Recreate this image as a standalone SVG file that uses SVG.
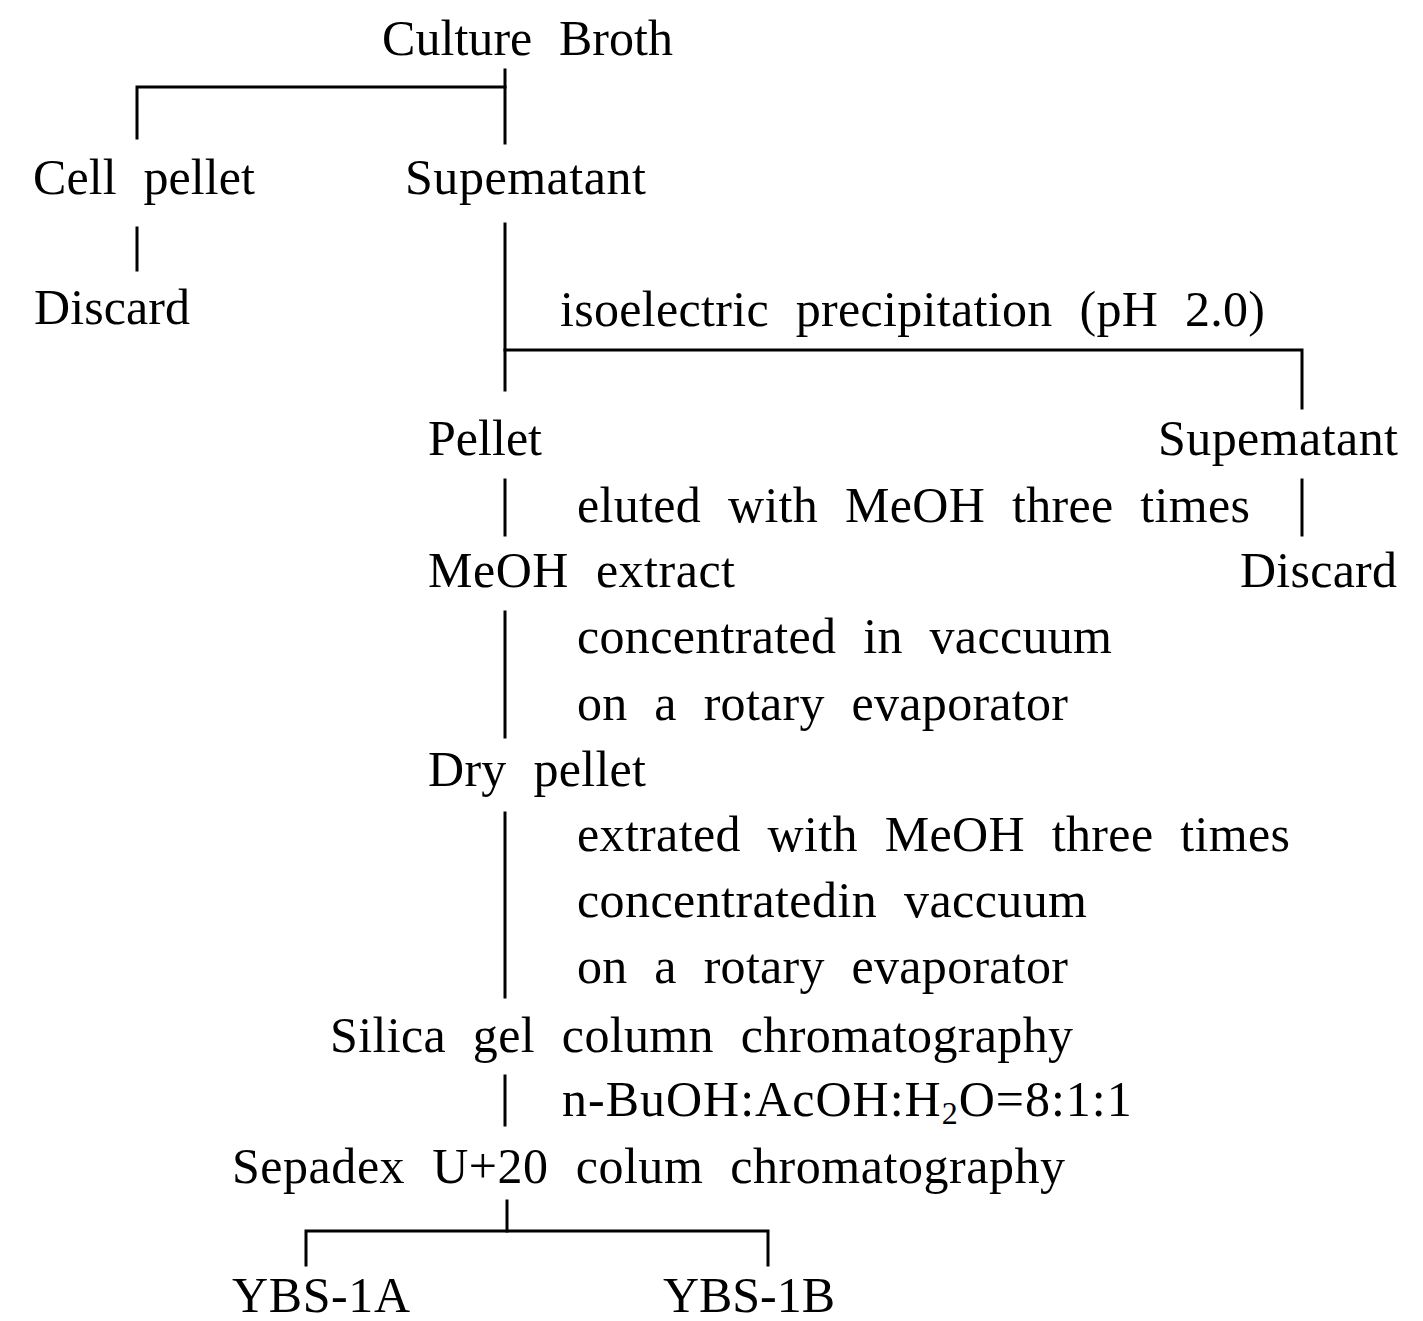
<svg xmlns="http://www.w3.org/2000/svg" width="1423" height="1321" viewBox="0 0 1423 1321">
<style>
text{font-family:"Liberation Serif","Times New Roman",serif;font-size:50px;fill:#000;word-spacing:14px}
.c{stroke:#000;stroke-width:3;fill:none;stroke-linecap:square}
</style>
<rect width="1423" height="1321" fill="#fff"/>
<g id="connectors" class="c">
<path d="M137,138 V87 H505"/>
<path d="M505,70 V143"/>
<path d="M137,228 V270"/>
<path d="M505,224 V390"/>
<path d="M505,350 H1302 V408"/>
<path d="M505,480 V535"/>
<path d="M1302,480 V535"/>
<path d="M505,612 V737"/>
<path d="M505,813 V997"/>
<path d="M505,1076 V1125"/>
<path d="M507,1201 V1231"/>
<path d="M306,1265 V1231 H768 V1265"/>
</g>
<g id="n-culture"><text x="382" y="55" textLength="291" lengthAdjust="spacing">Culture Broth</text></g>
<g id="n-cell"><text x="33" y="194" textLength="222" lengthAdjust="spacing">Cell pellet</text></g>
<g id="n-super1"><text x="405" y="194" textLength="241" lengthAdjust="spacing">Supematant</text></g>
<g id="n-discard1"><text x="34" y="324" textLength="156" lengthAdjust="spacing">Discard</text></g>
<g id="l-iso"><text x="560" y="326" textLength="705" lengthAdjust="spacing">isoelectric precipitation (pH 2.0)</text></g>
<g id="n-pellet"><text x="428" y="455" textLength="114" lengthAdjust="spacing">Pellet</text></g>
<g id="n-super2"><text x="1158" y="455" textLength="240" lengthAdjust="spacing">Supematant</text></g>
<g id="l-eluted"><text x="577" y="522" textLength="673" lengthAdjust="spacing">eluted with MeOH three times</text></g>
<g id="n-meoh"><text x="428" y="587" textLength="307" lengthAdjust="spacing">MeOH extract</text></g>
<g id="n-discard2"><text x="1240" y="587" textLength="157" lengthAdjust="spacing">Discard</text></g>
<g id="l-conc1"><text x="577" y="653" textLength="535" lengthAdjust="spacing">concentrated in vaccuum</text><text x="577" y="720" textLength="491" lengthAdjust="spacing">on a rotary evaporator</text></g>
<g id="n-dry"><text x="428" y="786" textLength="218" lengthAdjust="spacing">Dry pellet</text></g>
<g id="l-ext"><text x="577" y="851" textLength="713" lengthAdjust="spacing">extrated with MeOH three times</text><text x="577" y="917" textLength="510" lengthAdjust="spacing">concentratedin vaccuum</text><text x="577" y="983" textLength="491" lengthAdjust="spacing">on a rotary evaporator</text></g>
<g id="n-silica"><text x="330" y="1052" textLength="743" lengthAdjust="spacing">Silica gel column chromatography</text></g>
<g id="l-solvent"><text x="562" y="1116" letter-spacing="1">n-BuOH:AcOH:H<tspan font-size="32" dy="8">2</tspan><tspan dy="-8">O=8:1:1</tspan></text></g>
<g id="n-sepadex"><text x="232" y="1183" textLength="833" lengthAdjust="spacing">Sepadex U+20 colum chromatography</text></g>
<g id="n-ybs1a"><text x="232" y="1312" textLength="178" lengthAdjust="spacing">YBS-1A</text></g>
<g id="n-ybs1b"><text x="663" y="1312" textLength="172" lengthAdjust="spacing">YBS-1B</text></g>
</svg>
